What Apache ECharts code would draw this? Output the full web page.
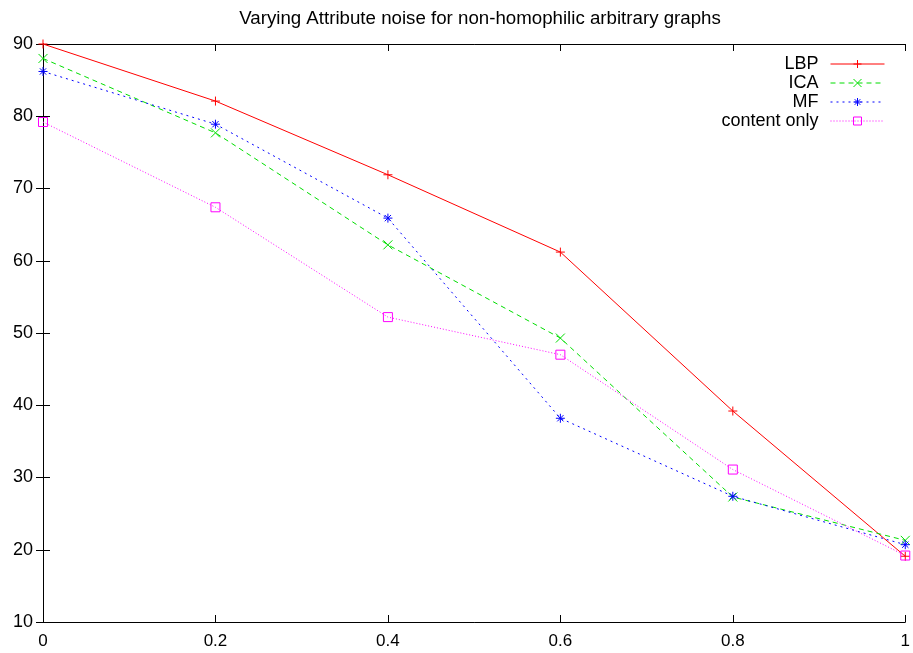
<!DOCTYPE html>
<html>
<head>
<meta charset="utf-8">
<script src="https://cdn.jsdelivr.net/npm/echarts@6/dist/echarts.min.js"></script>
<style>
  html, body { margin: 0; padding: 0; background: #fff; }
  #chart { width: 913px; height: 653px; }
</style>
</head>
<body>
<div id="chart"></div>
<script>
// noise levels on the x axis
const noise = [0, 0.2, 0.4, 0.6, 0.8, 1];
// accuracy per method
const lbp = [90, 82.1, 71.9, 61.2, 39.2, 19.1];
const ica = [88, 77.7, 62.2, 49.3, 27.3, 21.3];
const mf = [86.2, 78.9, 65.9, 38.2, 27.4, 20.7];
const contentOnly = [79.2, 67.4, 52.2, 47.0, 31.1, 19.2];
const names = ["LBP", "ICA", "MF", "content only"];
const xTicks = ["0", "0.2", "0.4", "0.6", "0.8", "1"];

const font = "Liberation Sans, Arial, sans-serif";
const colors = ["#ff0000", "#00dd00", "#0000ff", "#ff00ff"];

// marker shapes like gnuplot points
const plus = "path://M5,0 L5,10 M0,5 L10,5";
const cross = "path://M0,0 L10,10 M0,10 L10,0";
const star = "path://M5,0 L5,10 M0,5 L10,5 M1.5,1.5 L8.5,8.5 M1.5,8.5 L8.5,1.5";
const square = "path://M0,0 L10,0 L10,10 L0,10 Z";

const pairs = (ys) => noise.map((x, i) => [x, ys[i]]);

const mkSeries = (name, ys, color, dash, symbol, size) => ({
  name: name,
  type: "line",
  data: pairs(ys),
  symbol: symbol,
  symbolSize: size,
  showSymbol: true,
  lineStyle: { color: color, width: 1, type: dash },
  itemStyle: { color: "rgba(0,0,0,0)", borderColor: color, borderWidth: 1 },
  emphasis: { disabled: true },
  animation: false,
});

const dashes = ["solid", [5, 4], [2, 4], [1, 2]];

const chart = echarts.init(document.getElementById("chart"));
chart.setOption({
  animation: false,
  title: {
    text: "Varying Attribute noise for non-homophilic arbitrary graphs",
    left: 475,
    textAlign: "center",
    top: 4,
    textStyle: { fontFamily: font, fontSize: 18.7, fontWeight: "normal", color: "#000" },
  },
  grid: { left: 43, right: 6, top: 44, bottom: 31 },
  legend: {
    right: 23,
    top: 50,
    orient: "vertical",
    align: "right",
    itemWidth: 54,
    itemHeight: 10,
    itemGap: 1,
    textStyle: { fontFamily: font, fontSize: 18, lineHeight: 18, color: "#000", padding: [0, 7, 0, 0] },
    data: names.map((n, i) => ({
      name: n,
      itemStyle: { color: "rgba(0,0,0,0)", borderColor: colors[i], borderWidth: 1 },
      lineStyle: { color: colors[i], width: 1, type: dashes[i] },
    })),
  },
  xAxis: [
    {
      type: "value",
      min: 0,
      max: 1,
      interval: 0.2,
      axisLine: { show: true, lineStyle: { color: "#000", width: 1 } },
      axisTick: { inside: true, length: 7, lineStyle: { color: "#000" } },
      axisLabel: {
        margin: 11,
        fontFamily: font,
        fontSize: 17,
        color: "#000",
        formatter: (v) => xTicks[Math.round(v / 0.2)],
      },
      splitLine: { show: false },
    },
    {
      type: "value",
      position: "top",
      min: 0,
      max: 1,
      interval: 0.2,
      axisLine: { show: true, lineStyle: { color: "#000", width: 1 } },
      axisTick: { inside: true, length: 7, lineStyle: { color: "#000" } },
      axisLabel: { show: false },
      splitLine: { show: false },
    },
  ],
  yAxis: [
    {
      type: "value",
      min: 10,
      max: 90,
      interval: 10,
      axisLine: { show: true, lineStyle: { color: "#000", width: 1 } },
      axisTick: { inside: true, length: 7, lineStyle: { color: "#000" } },
      axisLabel: { margin: 10, fontFamily: font, fontSize: 18, color: "#000" },
      splitLine: { show: false },
    },
    {
      type: "value",
      position: "right",
      min: 10,
      max: 90,
      interval: 10,
      axisLine: { show: true, lineStyle: { color: "#000", width: 1 } },
      axisTick: { inside: true, length: 7, lineStyle: { color: "#000" } },
      axisLabel: { show: false },
      splitLine: { show: false },
    },
  ],
  series: [
    mkSeries(names[0], lbp, colors[0], dashes[0], plus, 9),
    mkSeries(names[1], ica, colors[1], dashes[1], cross, 9),
    mkSeries(names[2], mf, colors[2], dashes[2], star, 9),
    mkSeries(names[3], contentOnly, colors[3], dashes[3], square, 9),
  ],
});
</script>
</body>
</html>
